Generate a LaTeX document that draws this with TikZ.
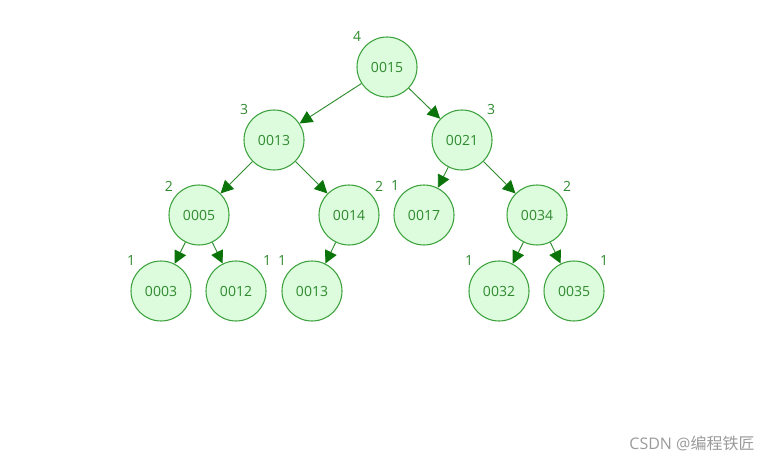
\documentclass[tikz,border=0pt]{standalone}
\usepackage{fontspec}
\setmainfont{Open Sans}
\newfontfamily\cjk{Noto Sans CJK SC}
\usetikzlibrary{arrows.meta}
\definecolor{nodefill}{HTML}{DDFCDD}
\definecolor{nodeline}{HTML}{3DA23D}
\definecolor{nodetext}{HTML}{2F8A2F}
\definecolor{edgeline}{HTML}{2E8B2E}
\definecolor{tipcol}{HTML}{0A740A}
\definecolor{wm}{HTML}{9A9A9A}
\tikzset{
  tnode/.style={circle, draw=nodeline, fill=nodefill, line width=0.8pt, minimum size=60*0.75pt, inner sep=0pt, text=nodetext, font=\fontsize{10.5pt}{12pt}\selectfont},
  hlabel/.style={text=nodetext, font=\fontsize{10.5pt}{12pt}\selectfont, inner sep=0pt},
  edge/.style={draw=edgeline, line width=0.7pt, -{Triangle[length=9.5pt, width=9.5pt, fill=tipcol, color=tipcol]}},
}
\begin{document}
\begin{tikzpicture}[x=0.75pt, y=-0.75pt]
\useasboundingbox (0,0) rectangle (777,463);
\node[tnode] (a) at (387,67) {0015};
\node[tnode] (b) at (274,140) {0013};
\node[tnode] (c) at (462,140) {0021};
\node[tnode] (d) at (199,215) {0005};
\node[tnode] (e) at (349,215) {0014};
\node[tnode] (f) at (424,215) {0017};
\node[tnode] (g) at (537,215) {0034};
\node[tnode] (h) at (161,291) {0003};
\node[tnode] (i) at (236,291) {0012};
\node[tnode] (j) at (312,291) {0013};
\node[tnode] (k) at (499,291) {0032};
\node[tnode] (l) at (574,291) {0035};
\node[hlabel] (la) at (357,36) {4};
\node[hlabel] (lb) at (244,110) {3};
\node[hlabel] (lc) at (491,110) {3};
\node[hlabel] (ld) at (169,186) {2};
\node[hlabel] (le) at (379,186) {2};
\node[hlabel] (lf) at (395,186) {1};
\node[hlabel] (lg) at (567,186) {2};
\node[hlabel] (lh) at (131,261) {1};
\node[hlabel] (li) at (267,261) {1};
\node[hlabel] (lj) at (282,261) {1};
\node[hlabel] (lk) at (469,261) {1};
\node[hlabel] (ll) at (604,261) {1};
\draw[edge] (a) -- (b);
\draw[edge] (a) -- (c);
\draw[edge] (b) -- (d);
\draw[edge] (b) -- (e);
\draw[edge] (c) -- (f);
\draw[edge] (c) -- (g);
\draw[edge] (d) -- (h);
\draw[edge] (d) -- (i);
\draw[edge] (e) -- (j);
\draw[edge] (g) -- (k);
\draw[edge] (g) -- (l);
\node[text=wm, font=\fontsize{12pt}{14pt}\selectfont, inner sep=0pt] (w) at (692,443) {CSDN @{\cjk 编程铁匠}};
\end{tikzpicture}
\end{document}
